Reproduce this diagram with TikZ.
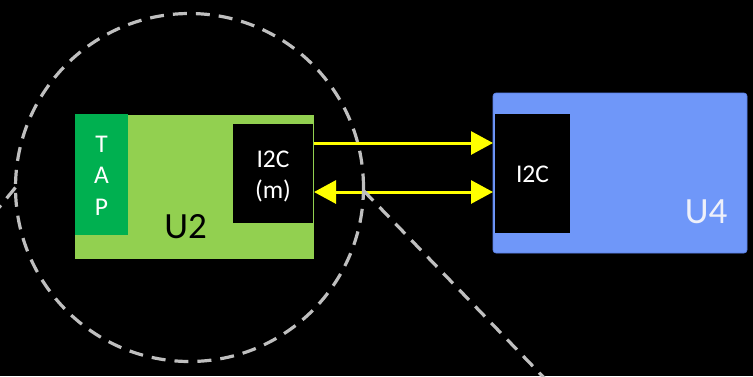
\documentclass[tikz,border=0pt]{standalone}
\usepackage{fontspec}
\setmainfont{Carlito}
\usetikzlibrary{arrows.meta}
\definecolor{chipgreen}{HTML}{92D050}
\definecolor{tapgreen}{HTML}{00B050}
\definecolor{chipblue}{HTML}{6F97F9}
\definecolor{chipblueedge}{HTML}{5A80E6}
\definecolor{busyellow}{HTML}{FFFF00}
\definecolor{lensgray}{HTML}{BFBFBF}
\definecolor{labelwhite}{HTML}{EEF0FA}
\tikzset{
  bustip/.tip={Triangle[length=22pt, width=23pt]},
  block/.style={rectangle, inner sep=0pt, outer sep=0pt, draw=none},
  blocktext/.style={inner sep=0pt, anchor=base, text=white, align=center},
  bigtext/.style={inner sep=0pt, anchor=base, font=\fontsize{37}{40}\selectfont},
  midtext/.style={font=\fontsize{25.5}{31.5}\selectfont},
  bus/.style={draw=busyellow, line width=3pt},
  lens/.style={draw=lensgray, line width=3.2pt, dash pattern=on 14pt off 9pt}
}
\begin{document}
\begin{tikzpicture}[x=1pt, y=-1pt]
  % canvas
  \fill[black] (0,0) rectangle (753,376);
  \useasboundingbox (0,0) rectangle (753,376);
  \clip (0,0) rectangle (753,376);

  % U2 device with its TAP port and I2C master
  \node[block, fill=chipgreen, minimum width=239pt, minimum height=144pt] (u2) at (194.5,187) {};
  \node[block, fill=tapgreen, minimum width=53pt, minimum height=121pt] (tap) at (101.5,174.5) {};
  \node[block, fill=black, minimum width=80pt, minimum height=99pt] (i2cm) at (273,173.5) {};
  % multi-line labels are placed by the baseline of their last line
  \node[blocktext, midtext] (taplabel) at (101.5,215) {T\\A\\P};
  \node[blocktext, midtext] (i2cmlabel) at (273,198.5) {I2C\\(m)};
  \node[bigtext, text=black] (u2label) at (185.5,238) {U2};

  % U4 device with its I2C port
  \node[block, fill=chipblue, draw=chipblueedge, line width=0.6pt, rounded corners=3pt,
        minimum width=254pt, minimum height=160pt] (u4) at (620,173) {};
  \node[block, fill=black, minimum width=75pt, minimum height=119pt] (i2cs) at (532.5,173.5) {};
  \node[blocktext, midtext] (i2cslabel) at (532.5,182) {I2C};
  \node[bigtext, text=labelwhite] (u4label) at (706,223) {U4};

  % I2C bus lines
  \draw[bus, -bustip] (u2.east |- 0,143) -- (u4.west |- 0,143);
  \draw[bus, bustip-bustip] (u2.east |- 0,192) -- (u4.west |- 0,192);

  % magnifier outline and its callout lines
  \node[circle, lens, minimum size=348pt, inner sep=0pt, outer sep=0pt] (lensc) at (189.5,187.5) {};
  \coordinate (calloutR) at (552,386);
  \coordinate (calloutL) at (-8,216);
  \draw[lens] (lensc.-1) -- (calloutR);
  \draw[lens] (lensc.180.5) -- (calloutL);
\end{tikzpicture}
\end{document}
